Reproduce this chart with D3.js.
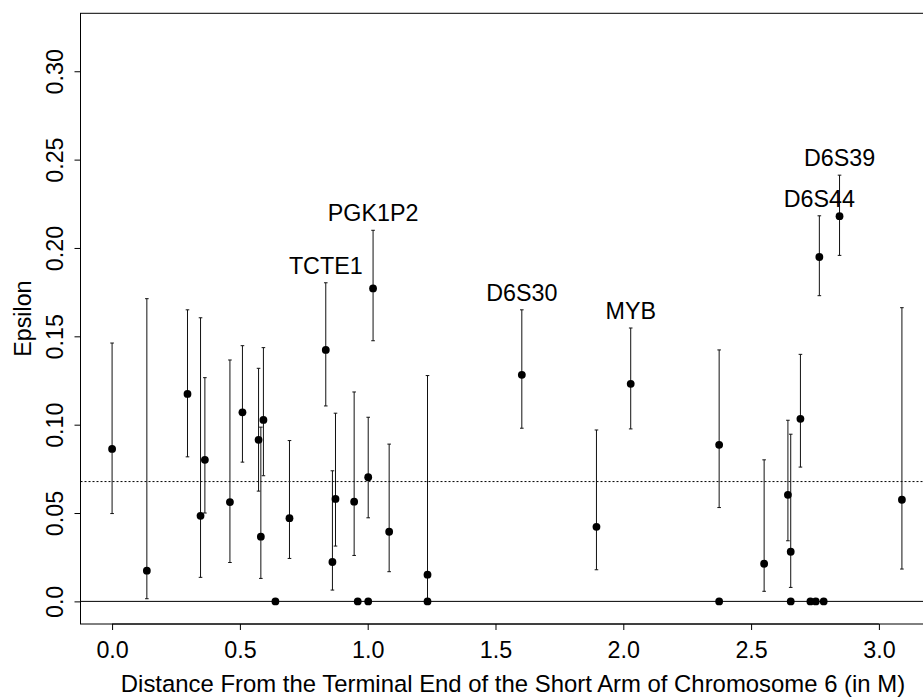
<!DOCTYPE html>
<html>
<head>
<meta charset="utf-8">
<script src="https://cdn.jsdelivr.net/npm/d3@7"></script>
<style>
  html, body { margin: 0; padding: 0; background: #fff; }
  svg { display: block; }
  text { font-family: "Liberation Sans", Arial, Helvetica, sans-serif; fill: #000; }
</style>
</head>
<body>
<svg id="chart" width="923" height="700"></svg>
<script>
// ---- data ----
const positions = [0.000, 0.136, 0.295, 0.346, 0.363, 0.461, 0.510, 0.573, 0.582, 0.592,
                   0.694, 0.836, 0.862, 0.874, 0.947, 1.002, 1.021, 1.084, 1.234, 1.603,
                   1.895, 2.029, 2.375, 2.551, 2.644, 2.655, 2.693, 2.767, 2.846, 3.090];
const epsilon   = [0.0863, 0.0174, 0.1174, 0.0484, 0.0801, 0.0562, 0.1070, 0.0914, 0.0366, 0.1027,
                   0.0471, 0.1423, 0.0223, 0.0580, 0.0564, 0.0703, 0.1771, 0.0394, 0.0151, 0.1282,
                   0.0422, 0.1231, 0.0886, 0.0213, 0.0603, 0.0281, 0.1033, 0.1949, 0.2180, 0.0575];
const lower     = [0.0497, 0.0015, 0.0818, 0.0136, 0.0500, 0.0220, 0.0788, 0.0624, 0.0130, 0.0711,
                   0.0243, 0.1106, 0.0064, 0.0313, 0.0260, 0.0473, 0.1475, 0.0168, 0.0000, 0.0980,
                   0.0179, 0.0976, 0.0531, 0.0057, 0.0343, 0.0079, 0.0760, 0.1730, 0.1958, 0.0183];
const upper     = [0.1462, 0.1713, 0.1650, 0.1605, 0.1266, 0.1366, 0.1447, 0.1319, 0.0986, 0.1436,
                   0.0910, 0.1803, 0.0739, 0.1065, 0.1185, 0.1042, 0.2100, 0.0890, 0.1278, 0.1650,
                   0.0970, 0.1547, 0.1423, 0.0801, 0.1025, 0.0946, 0.1398, 0.2182, 0.2412, 0.1662];
const zeroPositions = [0.639, 0.961, 1.002, 1.234, 2.375, 2.655, 2.732, 2.753, 2.784];
const labelNames = ["TCTE1", "PGK1P2", "D6S30", "MYB", "D6S44", "D6S39"];
const labelIndex = [11, 16, 19, 21, 27, 28];
const meanEpsilon = 0.0678;
const xTicks = [0.0, 0.5, 1.0, 1.5, 2.0, 2.5, 3.0];
const xTickLabels = ["0.0", "0.5", "1.0", "1.5", "2.0", "2.5", "3.0"];
const yTicks = [0.0, 0.05, 0.10, 0.15, 0.20, 0.25, 0.30];
const yTickLabels = ["0.0", "0.05", "0.10", "0.15", "0.20", "0.25", "0.30"];
const xTitle = "Distance From the Terminal End of the Short Arm of Chromosome 6 (in M)";
const yTitle = "Epsilon";

// ---- layout ----
const svg = d3.select("#chart");
const box = { left: 80.5, right: 933.5, top: 13.3, bottom: 624 };
const x = d3.scaleLinear().domain([-0.1236, 3.2136]).range([box.left, box.right]);
const y = d3.scaleLinear().domain([-0.0128, 0.3328]).range([box.bottom, box.top]);
const fontSize = 23.3;

// reference lines
svg.append("line")
  .attr("x1", box.left).attr("x2", box.right)
  .attr("y1", y(0)).attr("y2", y(0))
  .attr("stroke", "#000").attr("stroke-width", 1);
svg.append("line")
  .attr("x1", box.left).attr("x2", box.right)
  .attr("y1", y(meanEpsilon)).attr("y2", y(meanEpsilon))
  .attr("stroke", "#000").attr("stroke-width", 1).attr("stroke-dasharray", "2,2");

// error bars
const data = positions.map((p, i) => ({ p, e: epsilon[i], lo: lower[i], hi: upper[i] }));
const cap = 1.8;
const bars = svg.append("g").attr("stroke", "#111").attr("stroke-width", 1).attr("fill", "none");
data.forEach(d => {
  const xp = x(d.p);
  bars.append("line").attr("x1", xp).attr("x2", xp).attr("y1", y(d.lo)).attr("y2", y(d.hi));
  bars.append("line").attr("x1", xp - cap).attr("x2", xp + cap).attr("y1", y(d.hi)).attr("y2", y(d.hi));
  bars.append("line").attr("x1", xp - cap).attr("x2", xp + cap).attr("y1", y(d.lo)).attr("y2", y(d.lo));
});

// points
svg.append("g").selectAll("circle").data(data).join("circle")
  .attr("cx", d => x(d.p)).attr("cy", d => y(d.e)).attr("r", 3.9).attr("fill", "#000");
svg.append("g").selectAll("circle").data(zeroPositions).join("circle")
  .attr("cx", d => x(d)).attr("cy", y(0)).attr("r", 3.9).attr("fill", "#000");

// labels
labelNames.forEach((name, k) => {
  const d = data[labelIndex[k]];
  svg.append("text")
    .attr("x", x(d.p)).attr("y", y(d.hi) - 9)
    .attr("text-anchor", "middle").attr("font-size", fontSize)
    .text(name);
});

// box
svg.append("rect")
  .attr("x", box.left).attr("y", box.top)
  .attr("width", box.right - box.left).attr("height", box.bottom - box.top)
  .attr("fill", "none").attr("stroke", "#000").attr("stroke-width", 1);

// x axis
const xAxis = d3.axisBottom(x).tickValues(xTicks).tickSize(6).tickSizeOuter(0)
  .tickFormat((d, i) => xTickLabels[i]);
const gx = svg.append("g").attr("transform", `translate(0,${box.bottom})`).call(xAxis);
gx.select(".domain").attr("d", `M${x(xTicks[0])},0H${x(xTicks[xTicks.length - 1])}`);
gx.selectAll("text").attr("font-size", fontSize).attr("font-family", "Liberation Sans, Arial, sans-serif")
  .attr("dy", null).attr("y", 34.3);

// y axis
const yAxis = d3.axisLeft(y).tickValues(yTicks).tickSize(6).tickSizeOuter(0)
  .tickFormat((d, i) => yTickLabels[i]);
const gy = svg.append("g").attr("transform", `translate(${box.left},0)`).call(yAxis);
gy.select(".domain").attr("d", `M0,${y(yTicks[0])}V${y(yTicks[yTicks.length - 1])}`);
gy.selectAll(".tick text")
  .attr("font-size", fontSize).attr("font-family", "Liberation Sans, Arial, sans-serif")
  .attr("x", null).attr("dy", null)
  .attr("text-anchor", "middle")
  .attr("transform", `translate(${63.3 - box.left},0) rotate(-90)`);

// titles
svg.append("text")
  .attr("x", 513).attr("y", 691.7)
  .attr("text-anchor", "middle").attr("font-size", 23.9)
  .text(xTitle);
svg.append("text")
  .attr("transform", `translate(30.7,${(box.top + box.bottom) / 2}) rotate(-90)`)
  .attr("text-anchor", "middle").attr("font-size", fontSize)
  .text(yTitle);
</script>
</body>
</html>
